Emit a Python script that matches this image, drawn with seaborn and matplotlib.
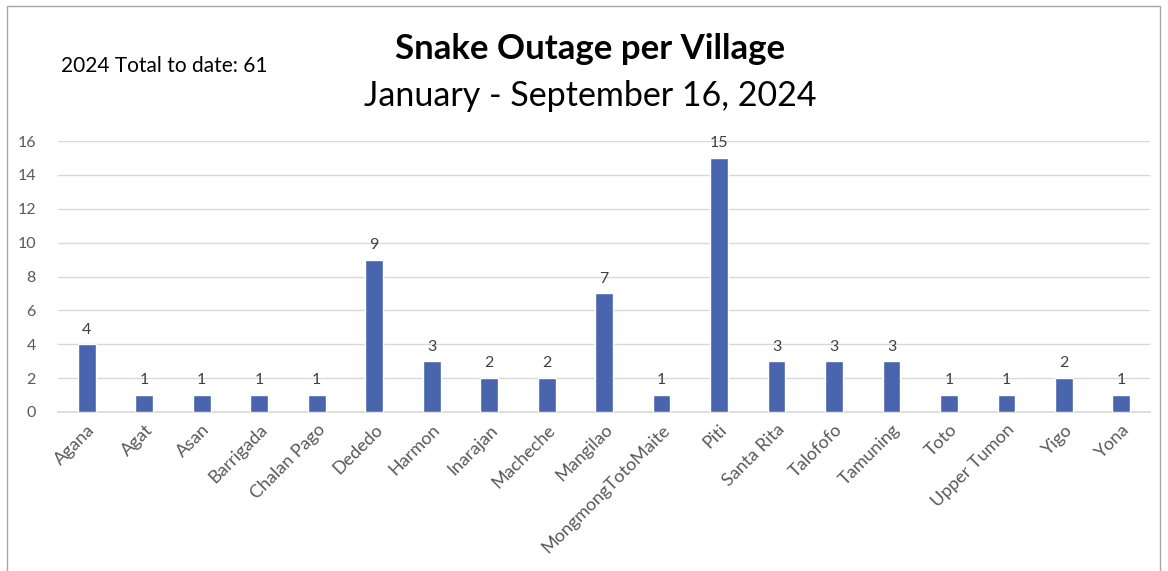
import matplotlib
matplotlib.use("Agg")
import matplotlib.pyplot as plt
import pandas as pd
import seaborn as sns
from matplotlib.patches import Rectangle

villages = ["Agana", "Agat", "Asan", "Barrigada", "Chalan Pago", "Dededo", "Harmon",
            "Inarajan", "Macheche", "Mangilao", "MongmongTotoMaite", "Piti", "Santa Rita",
            "Talofofo", "Tamuning", "Toto", "Upper Tumon", "Yigo", "Yona"]
outages = [4, 1, 1, 1, 1, 9, 3, 2, 2, 7, 1, 15, 3, 3, 3, 1, 1, 2, 1]
y_ticks = [0, 2, 4, 6, 8, 10, 12, 14, 16]

df = pd.DataFrame({"village": villages, "outages": outages})

sns.set_style("white")
plt.rcParams["font.family"] = ["Lato", "DejaVu Sans"]

fig = plt.figure(figsize=(11.68, 5.71), dpi=100)
ax = fig.add_axes([0.0497, 0.2785, 0.935, 0.4745])

sns.barplot(data=df, x="village", y="outages", color="#4865AE", width=0.31,
            saturation=1, ax=ax, zorder=3)

for i, v in enumerate(outages):
    ax.text(i, v + 0.45, str(v), ha="center", va="bottom", fontsize=11.5, color="#404040")

ax.set_ylim(0, 16)
ax.set_xlim(-0.5, len(villages) - 0.5)
ax.set_yticks(y_ticks)
ax.yaxis.grid(True, color="#D9D9D9", linewidth=1, zorder=0)
ax.set_xlabel("")
ax.set_ylabel("")
for s in ["top", "right", "left"]:
    ax.spines[s].set_visible(False)
ax.spines["bottom"].set_color("#D9D9D9")
ax.spines["bottom"].set_linewidth(1.2)
ax.tick_params(axis="both", length=0, labelcolor="#595959")
ax.tick_params(axis="y", pad=16, labelsize=11.5)
ax.tick_params(axis="x", pad=7, labelsize=13)
plt.setp(ax.get_xticklabels(), rotation=45, ha="right", rotation_mode="anchor")

fig.text(0.505, 0.915, "Snake Outage per Village", ha="center", va="center",
         fontsize=25, fontweight="bold", color="black")
fig.text(0.505, 0.832, "January - September 16, 2024", ha="center", va="center",
         fontsize=24.5, color="black")
fig.text(0.052, 0.884, "2024 Total to date: 61", ha="left", va="center",
         fontsize=15, color="black")

fig.patches.append(Rectangle((0.006, -0.05), 0.987, 1.04, transform=fig.transFigure,
                             fill=False, edgecolor="#A6A6A6", linewidth=1))

fig.savefig("out.png", dpi=100)
